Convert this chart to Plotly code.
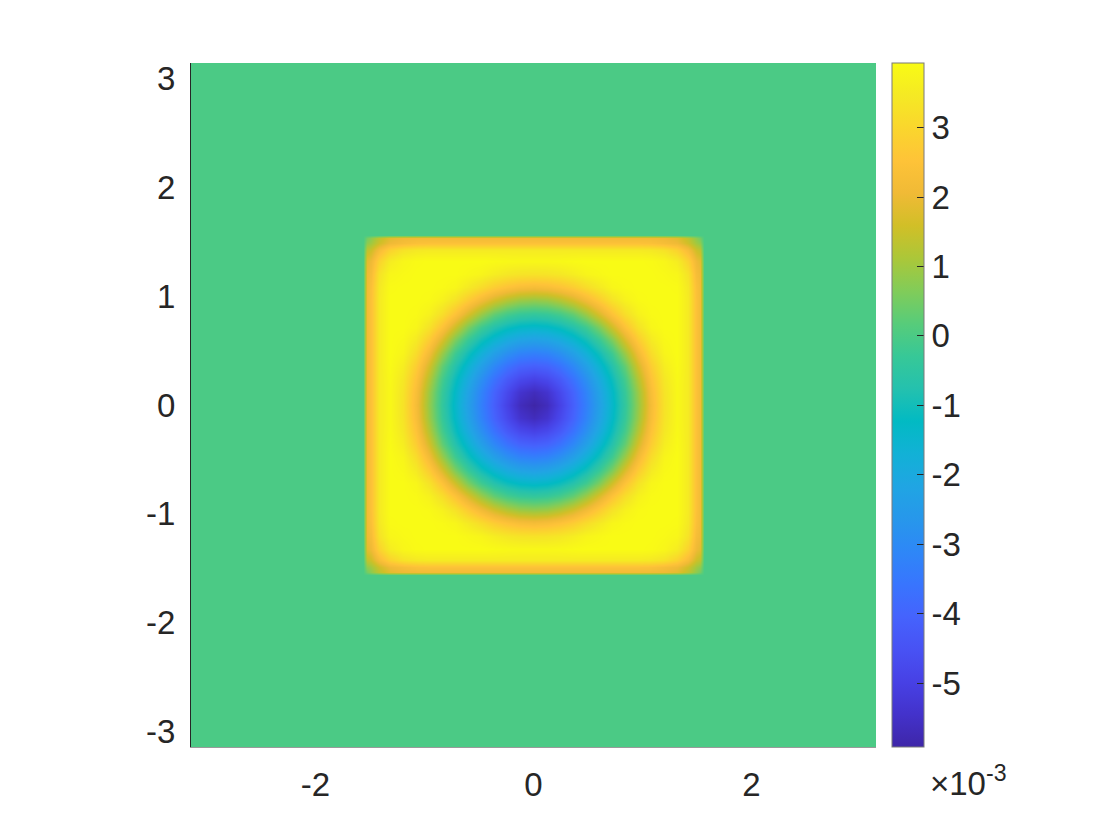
import numpy as np
import plotly.graph_objects as go

# grid nodes of one quadrant (x, y >= 0); the field is symmetric in x, y and x<->y
quad_nodes = [0, 0.12, 0.24, 0.36, 0.48, 0.60, 0.72, 0.84, 0.96, 1.08, 1.20, 1.32, 1.42, 1.49, 1.53]
outer_nodes = [1.56, np.pi]

# values (x 1e-3), rows = y node, cols = x node
quad_values = [
    [-5.92, -5.65, -4.97, -4.16, -3.30, -2.35, -1.39, -0.39, 0.87, 2.23, 3.30, 3.83, 3.50, 2.45, 2.15],
    [-5.65, -5.40, -4.77, -4.04, -3.19, -2.25, -1.31, -0.31, 0.95, 2.31, 3.33, 3.83, 3.50, 2.45, 2.15],
    [-4.97, -4.77, -4.30, -3.65, -2.85, -1.98, -1.08, -0.08, 1.23, 2.50, 3.42, 3.85, 3.50, 2.45, 2.15],
    [-4.16, -4.04, -3.65, -3.08, -2.35, -1.55, -0.71, 0.32, 1.63, 2.77, 3.57, 3.89, 3.50, 2.45, 2.15],
    [-3.30, -3.19, -2.85, -2.35, -1.72, -1.01, -0.17, 0.95, 2.15, 3.15, 3.76, 3.93, 3.50, 2.45, 2.15],
    [-2.35, -2.25, -1.98, -1.55, -1.01, -0.31, 0.59, 1.70, 2.72, 3.48, 3.85, 3.93, 3.50, 2.45, 2.15],
    [-1.39, -1.31, -1.08, -0.71, -0.17, 0.59, 1.55, 2.50, 3.30, 3.79, 3.93, 3.93, 3.50, 2.45, 2.15],
    [-0.39, -0.31, -0.08, 0.32, 0.95, 1.70, 2.50, 3.20, 3.68, 3.89, 3.93, 3.93, 3.50, 2.45, 2.15],
    [0.87, 0.95, 1.23, 1.63, 2.15, 2.72, 3.30, 3.68, 3.88, 3.93, 3.93, 3.93, 3.50, 2.45, 2.15],
    [2.23, 2.31, 2.50, 2.77, 3.15, 3.48, 3.79, 3.89, 3.93, 3.93, 3.93, 3.90, 3.45, 2.40, 2.13],
    [3.30, 3.33, 3.42, 3.57, 3.76, 3.85, 3.93, 3.93, 3.93, 3.93, 3.88, 3.80, 3.30, 2.25, 2.05],
    [3.83, 3.83, 3.85, 3.89, 3.93, 3.93, 3.93, 3.93, 3.93, 3.90, 3.80, 3.55, 2.90, 2.05, 1.85],
    [3.50, 3.50, 3.50, 3.50, 3.50, 3.50, 3.50, 3.50, 3.50, 3.45, 3.30, 2.90, 2.25, 1.55, 1.35],
    [2.45, 2.45, 2.45, 2.45, 2.45, 2.45, 2.45, 2.45, 2.45, 2.40, 2.25, 2.05, 1.55, 1.00, 0.80],
    [2.15, 2.15, 2.15, 2.15, 2.15, 2.15, 2.15, 2.15, 2.15, 2.13, 2.05, 1.85, 1.35, 0.80, 0.50],
]

z_min, z_max = -5.92e-3, 3.93e-3
cbar_ticks = [-5, -4, -3, -2, -1, 0, 1, 2, 3]
x_ticks = [-2, 0, 2]
y_ticks = [-3, -2, -1, 0, 1, 2, 3]

PARULA = [
    (0.2422, 0.1504, 0.6603), (0.2647, 0.1978, 0.7952), (0.2783, 0.2559, 0.8991),
    (0.2810, 0.3228, 0.9579), (0.2699, 0.3892, 0.9906), (0.2206, 0.4603, 0.9973),
    (0.1786, 0.5289, 0.9682), (0.1540, 0.5902, 0.9218), (0.1248, 0.6459, 0.8883),
    (0.0689, 0.6948, 0.8394), (0.0067, 0.7312, 0.7660), (0.1408, 0.7584, 0.6842),
    (0.2161, 0.7843, 0.5923), (0.3406, 0.8008, 0.4789), (0.5044, 0.7993, 0.3480),
    (0.6720, 0.7793, 0.2227), (0.8203, 0.7498, 0.1535), (0.9393, 0.7288, 0.2100),
    (0.9970, 0.7659, 0.2199), (0.9786, 0.8386, 0.1766), (0.9597, 0.9135, 0.1423),
    (0.9769, 0.9839, 0.0805),
]
colorscale = [
    [i / (len(PARULA) - 1), 'rgb(%d,%d,%d)' % tuple(round(c * 255) for c in rgb)]
    for i, rgb in enumerate(PARULA)
]

TEXT = '#262626'
FONT = 'Liberation Sans, Arial, Helvetica, sans-serif'
FONT_SIZE = 33

# mirror the quadrant into the full square and pad with the zero field outside
half = list(quad_nodes) + list(outer_nodes)
coords = [-c for c in half[::-1] if c != 0] + half
quad = np.array(quad_values)
rows = np.vstack([quad[:0:-1], quad])
inner = np.hstack([rows[:, :0:-1], rows])
z = np.pad(inner, len(outer_nodes)) * 1e-3

fig = go.Figure(go.Heatmap(
    x=coords,
    y=coords,
    z=z,
    zsmooth='best',
    zmin=z_min,
    zmax=z_max,
    colorscale=colorscale,
    colorbar=dict(
        thickness=32,
        thicknessmode='pixels',
        len=1,
        lenmode='fraction',
        x=(892 - 191) / 685,
        xanchor='left',
        y=0.5,
        yanchor='middle',
        outlinewidth=1,
        outlinecolor='#7a7a7a',
        ticks='inside',
        ticklen=7,
        tickwidth=1,
        tickcolor=TEXT,
        tickvals=[t * 1e-3 for t in cbar_ticks],
        ticktext=[str(t) for t in cbar_ticks],
        tickfont=dict(size=FONT_SIZE, color=TEXT, family=FONT),
        ypad=0,
        xpad=0,
    ),
    hovertemplate='x: %{x:.2f}<br>y: %{y:.2f}<br>z: %{z:.2e}<extra></extra>',
))

# the page body adds 8px, so margins are 8px short of the measured positions
fig.update_layout(
    width=1120,
    height=840,
    margin=dict(l=183, r=252, t=55, b=101),
    paper_bgcolor='white',
    plot_bgcolor='white',
    font=dict(family=FONT, color=TEXT, size=FONT_SIZE),
    annotations=[dict(
        text='×10<sup>-3</sup>',
        xref='paper', yref='paper',
        x=(928 - 191) / 685, y=-0.05,
        xanchor='left', yanchor='middle',
        showarrow=False,
        font=dict(size=FONT_SIZE, color=TEXT, family=FONT),
    )],
)

fig.update_xaxes(
    range=[-np.pi, np.pi],
    tickvals=x_ticks,
    ticktext=[str(t) for t in x_ticks],
    ticks='',
    ticklabelstandoff=8,
    showgrid=False,
    zeroline=False,
    showline=True,
    linecolor='#9a9a9a',
    linewidth=1,
    tickfont=dict(size=FONT_SIZE, color=TEXT),
)

fig.update_yaxes(
    range=[-np.pi, np.pi],
    tickvals=y_ticks,
    ticktext=[str(t) for t in y_ticks],
    ticks='',
    ticklabelstandoff=8,
    showgrid=False,
    zeroline=False,
    showline=True,
    linecolor=TEXT,
    linewidth=1,
    tickfont=dict(size=FONT_SIZE, color=TEXT),
)

fig.write_html("out.html")
